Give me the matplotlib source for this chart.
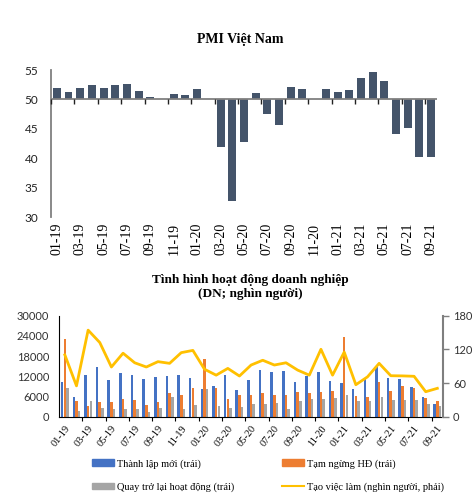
import numpy as np
import matplotlib
matplotlib.use("Agg")
from matplotlib import pyplot as plt
from matplotlib.patches import Patch
from matplotlib.lines import Line2D

# data
months = ['01-19', '02-19', '03-19', '04-19', '05-19', '06-19', '07-19', '08-19', '09-19', '10-19',
          '11-19', '12-19', '01-20', '02-20', '03-20', '04-20', '05-20', '06-20', '07-20', '08-20',
          '09-20', '10-20', '11-20', '12-20', '01-21', '02-21', '03-21', '04-21', '05-21', '06-21',
          '07-21', '08-21', '09-21']
pmi = [51.9, 51.2, 51.9, 52.5, 52.0, 52.5, 52.6, 51.4, 50.5, 50.0, 51.0, 50.8, 51.8, 50.0,
       41.9, 32.7, 42.7, 51.1, 47.6, 45.7, 52.2, 51.8, 50.0, 51.7, 51.3, 51.6, 53.6, 54.7,
       53.1, 44.1, 45.1, 40.2, 40.2]

thanh_lap = [10200, 5940, 12480, 14850, 10790, 12970, 12380, 11190, 11780, 12180, 12280, 11490,
             8320, 9110, 12280, 7920, 10800, 13780, 13270, 13480, 10300, 12080, 13190, 10690,
             10100, 8130, 11290, 14670, 11580, 11290, 8810, 5760, 3860]
tam_ngung = [23080, 4660, 3270, 4370, 4470, 5350, 5050, 3370, 4370, 7130, 6440, 8520,
             17230, 8520, 5250, 6340, 6440, 7030, 6440, 6540, 7430, 6940, 7330, 7720,
             23580, 6240, 5760, 10300, 7630, 9110, 8420, 5550, 4750]
quay_lai = [8520, 1780, 4660, 2480, 2280, 2280, 2380, 1390, 2580, 5940, 2380, 3470,
            8320, 3170, 2670, 2770, 3660, 3660, 4070, 2280, 4660, 5170, 5350, 5450,
            6530, 4660, 4660, 5760, 4960, 4960, 4960, 3860, 3170]
viec_lam = [110, 55, 154, 132, 88.5, 113, 96, 88.5, 98, 95, 114, 118,
            84.5, 74, 86, 72.5, 92, 100.5, 92, 96, 83, 74, 120, 74,
            115, 57, 71, 95, 73, 72.7, 72, 44.6, 50.6]

serif = 'Liberation Serif'
sans = 'Lato'

x = np.arange(len(months))
lab_pos = x[::2]
lab_txt = months[::2]
bounds = np.arange(1.5, len(months), 2)

fig = plt.figure(figsize=(4.76, 5.04), dpi=100)

# ---- PMI chart
ax1 = fig.add_axes([0.107, 0.569, 0.811, 0.292])
pmi_arr = np.array(pmi)
ax1.bar(x, pmi_arr - 50, bottom=50, width=0.68, color='#44546A', zorder=2)
ax1.set_xlim(-0.5, len(months) - 0.5)
ax1.set_ylim(30, 55)
ax1.set_yticks(np.arange(30, 56, 5))
ax1.tick_params(axis='y', length=0, pad=9, labelsize=8.5, labelcolor='#222222')
for t in ax1.get_yticklabels():
    t.set_fontfamily(sans)
ax1.set_xticks(lab_pos)
ax1.set_xticklabels(lab_txt, rotation=90, fontfamily=serif, fontsize=10)
ax1.tick_params(axis='x', length=0, pad=4)
for s in ['top', 'right', 'bottom']:
    ax1.spines[s].set_visible(False)
ax1.spines['left'].set_color('#808080')
ax1.spines['left'].set_linewidth(1.3)
ax1.axhline(50, color='#808080', lw=1.3, zorder=3)
ax1.plot(np.r_[-0.5, bounds], [50] * (len(bounds) + 1), ls='none', marker=3,
         ms=3.5, mew=1, color='#222222', zorder=3, clip_on=False)
fig.text(0.505, 0.922, 'PMI Việt Nam', ha='center', va='center',
         fontfamily=serif, fontweight='bold', fontsize=10)

# ---- business chart
ax2 = fig.add_axes([0.124, 0.173, 0.807, 0.201])
w = 0.22
ax2.bar(x - 0.23, thanh_lap, width=w, color='#4472C4', zorder=2)
ax2.bar(x, tam_ngung, width=w, color='#ED7D31', zorder=2)
ax2.bar(x + 0.23, quay_lai, width=w, color='#A5A5A5', zorder=2)
ax2.set_xlim(-0.5, len(months) - 0.5)
ax2.set_ylim(0, 30000)
ax2.set_yticks(np.arange(0, 30001, 6000))
ax2.tick_params(axis='y', length=0, pad=7, labelsize=8, labelcolor='#333333')
for t in ax2.get_yticklabels():
    t.set_fontfamily(sans)
ax2.set_xticks(lab_pos)
ax2.set_xticklabels(lab_txt, rotation=52, ha='right', rotation_mode='anchor',
                    fontfamily=serif, fontsize=7.5)
ax2.set_xticks(bounds, minor=True)
ax2.tick_params(axis='x', which='major', length=0, pad=5)
ax2.tick_params(axis='x', which='minor', length=3, width=0.8)
for s in ['top', 'right']:
    ax2.spines[s].set_visible(False)
ax2.spines['left'].set_color('black')
ax2.spines['bottom'].set_color('black')

ax3 = ax2.twinx()
ax3.plot(x, viec_lam, color='#FFC000', lw=2, zorder=3)
ax3.set_ylim(0, 180)
ax3.set_yticks([0, 60, 120, 180])
ax3.tick_params(axis='y', length=4, width=1, color='#7F7F7F', pad=3,
                labelsize=8, labelcolor='#333333')
for t in ax3.get_yticklabels():
    t.set_fontfamily(sans)
for s in ['top', 'left', 'bottom']:
    ax3.spines[s].set_visible(False)
ax3.spines['right'].set_color('#7F7F7F')
ax3.spines['right'].set_linewidth(1.5)

fig.text(0.525, 0.431, 'Tình hình hoạt động doanh nghiệp\n(DN; nghìn người)',
         ha='center', va='center', fontfamily=serif, fontweight='bold',
         fontsize=9.5, linespacing=1.25)

# legend is filled column by column, so order for row-major look
handles = [Patch(color='#4472C4'), Patch(color='#A5A5A5'),
           Patch(color='#ED7D31'), Line2D([0], [0], color='#FFC000', lw=1.5)]
labels = ['Thành lập mới (trái)', 'Quay trở lại hoạt động (trái)',
          'Tạm ngừng HĐ (trái)', 'Tạo việc làm (nghìn người, phải)']
fig.legend(handles, labels, loc='upper left', bbox_to_anchor=(92 / 476, 1 - 459 / 504),
           ncol=2, frameon=False, prop={'family': serif, 'size': 7.5},
           handlelength=2.1, handleheight=0.6, handletextpad=0.3,
           columnspacing=4.6, labelspacing=1.3, borderpad=0, borderaxespad=0)

fig.savefig('out.png', dpi=100, facecolor='white')
